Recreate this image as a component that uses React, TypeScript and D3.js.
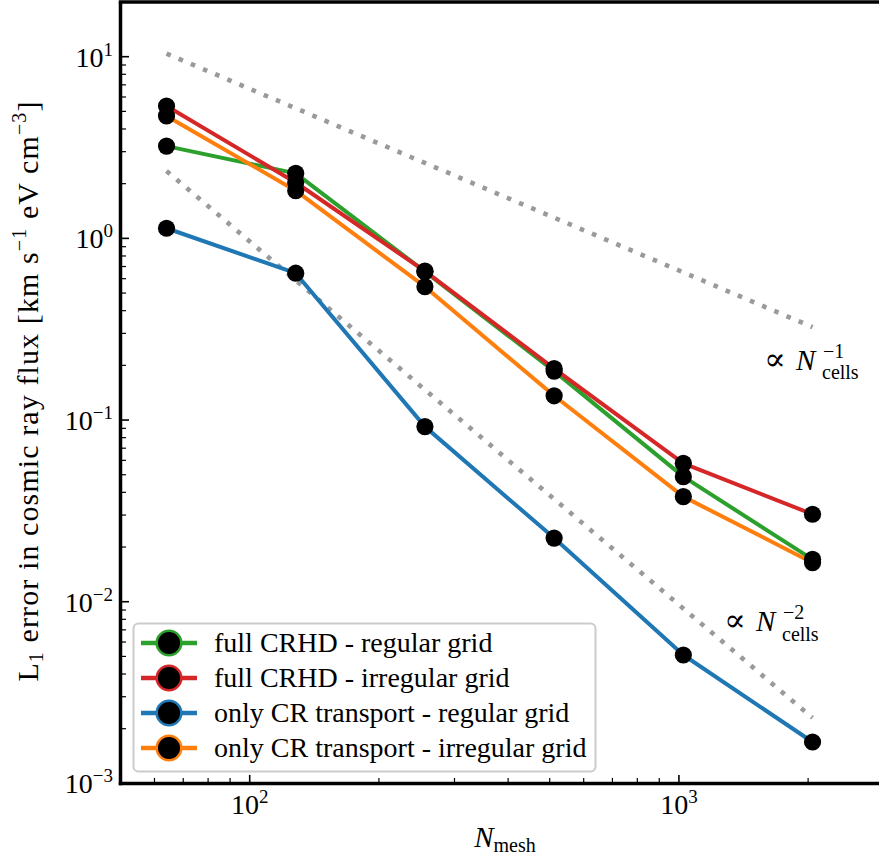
import React from "react";
import * as d3 from "d3";

const nMesh = [64, 128, 256, 512, 1024, 2048];
const fullRegular = [3.22, 2.28, 0.656, 0.186, 0.0488, 0.0171];
const fullIrregular = [5.35, 2.03, 0.66, 0.192, 0.0578, 0.0303];
const crRegular = [1.137, 0.643, 0.092, 0.0224, 0.00509, 0.00169];
const crIrregular = [4.72, 1.83, 0.542, 0.136, 0.0379, 0.0164];
const seriesNames = [
  "full CRHD - regular grid",
  "full CRHD - irregular grid",
  "only CR transport - regular grid",
  "only CR transport - irregular grid",
];
const seriesValues = [fullRegular, fullIrregular, crRegular, crIrregular];
const seriesColors = ["#2ca02c", "#d62728", "#1f77b4", "#ff7f0e"];

// reference scaling lines (endpoints)
const refN1 = [
  [64, 10.4],
  [2048, 0.325],
];
const refN2 = [
  [64, 2.35],
  [2048, 0.002295],
];

const xMajor = [100, 1000];
const xMajorExp = ["2", "3"];
const yMajor = [10, 1, 0.1, 0.01, 0.001];
const yMajorExp = ["1", "0", "−1", "−2", "−3"];

const W = 879;
const H = 857;
const FONT = "Liberation Serif, DejaVu Serif, serif";

export default function App() {
  const x = d3.scaleLog().domain([50, 3000]).range([120.5, 883.7]);
  const y = d3.scaleLog().domain([0.001, 20]).range([783.4, 2]);
  const x0 = x.range()[0];
  const x1 = x.range()[1];
  const y0 = y.range()[0];
  const y1 = y.range()[1];

  const line = d3
    .line<number>()
    .x((_, i) => x(nMesh[i]))
    .y((d) => y(d));
  const refLine = d3
    .line<number[]>()
    .x((d) => x(d[0]))
    .y((d) => y(d[1]));

  const xMinor: number[] = [];
  for (const dec of [10, 100, 1000]) {
    for (let k = 2; k <= 9; k++) {
      const v = k * dec;
      if (v > 50 && v < 3000) xMinor.push(v);
    }
  }
  const yMinor: number[] = [];
  for (const dec of [0.001, 0.01, 0.1, 1, 10]) {
    for (let k = 2; k <= 9; k++) {
      const v = k * dec;
      if (v > 0.001 && v < 20) yMinor.push(v);
    }
  }

  const legendRows = [643, 678, 713, 748];

  return (
    <svg width={W} height={H} style={{ display: "block", position: "absolute", left: 0, top: 0, fontFamily: FONT }}>
      <rect x={0} y={0} width={W} height={H} fill="white" />
      {[refN1, refN2].map((r, i) => (
        <path
          key={"ref" + i}
          d={refLine(r) || ""}
          fill="none"
          stroke="#9a9a9a"
          strokeWidth={4.6}
          strokeDasharray="4.6 8.6"
        />
      ))}
      {seriesValues.map((vals, i) => (
        <path key={"l" + i} d={line(vals) || ""} fill="none" stroke={seriesColors[i]} strokeWidth={4} strokeLinejoin="round" />
      ))}
      {seriesValues.map((vals, i) =>
        vals.map((v, j) => <circle key={"m" + i + "_" + j} cx={x(nMesh[j])} cy={y(v)} r={8.6} fill="black" />)
      )}
      <g style={{ fontSize: 29 }}>
        <text x={764} y={370} style={{ fontSize: 32 }}>∝</text>
        <text x={796} y={370} fontStyle="italic">N</text>
        <text x={823} y={358} style={{ fontSize: 20 }}>−1</text>
        <text x={822} y={379} style={{ fontSize: 20 }}>cells</text>
        <text x={724} y={631} style={{ fontSize: 32 }}>∝</text>
        <text x={756} y={631} fontStyle="italic">N</text>
        <text x={783} y={619} style={{ fontSize: 20 }}>−2</text>
        <text x={782} y={641} style={{ fontSize: 20 }}>cells</text>
      </g>
      <rect x={133.5} y={623.5} width={462} height={148} rx={5} fill="white" fillOpacity={0.85} stroke="#cccccc" strokeWidth={2} />
      {seriesNames.map((name, i) => (
        <g key={"lg" + i}>
          <line x1={141} x2={197} y1={legendRows[i]} y2={legendRows[i]} stroke={seriesColors[i]} strokeWidth={4.5} />
          <circle cx={169} cy={legendRows[i]} r={12.3} fill="black" stroke={seriesColors[i]} strokeWidth={2.5} />
          <text x={214} y={legendRows[i] + 9} style={{ fontSize: 28 }}>
            {name}
          </text>
        </g>
      ))}
      <line x1={x0} x2={x0} y1={y1} y2={y0 + 1.75} stroke="black" strokeWidth={3.5} />
      <line x1={x0 - 1.75} x2={x1} y1={y0} y2={y0} stroke="black" strokeWidth={3.5} />
      <line x1={x0 - 1.75} x2={x1} y1={y1} y2={y1} stroke="black" strokeWidth={3.5} />
      <line x1={x1} x2={x1} y1={y1} y2={y0} stroke="black" strokeWidth={3.5} />
      {xMajor.map((v, i) => (
        <g key={"xt" + i}>
          <line x1={x(v)} x2={x(v)} y1={y0} y2={y0 - 8.5} stroke="black" strokeWidth={1.6} />
          <text x={x(v)} y={814} textAnchor="middle" style={{ fontSize: 28 }}>
            10<tspan dy={-11} style={{ fontSize: 19 }}>{xMajorExp[i]}</tspan>
          </text>
        </g>
      ))}
      {xMinor.map((v, i) => (
        <line key={"xm" + i} x1={x(v)} x2={x(v)} y1={y0} y2={y0 - 5.5} stroke="black" strokeWidth={1.2} />
      ))}
      {yMajor.map((v, i) => (
        <g key={"yt" + i}>
          <line x1={x0} x2={x0 + 8.5} y1={y(v)} y2={y(v)} stroke="black" strokeWidth={1.6} />
          <text x={113} y={y(v) + 10} textAnchor="end" style={{ fontSize: 28 }}>
            10<tspan dy={-11} style={{ fontSize: 19 }}>{yMajorExp[i]}</tspan>
          </text>
        </g>
      ))}
      {yMinor.map((v, i) => (
        <line key={"ym" + i} x1={x0} x2={x0 + 5.5} y1={y(v)} y2={y(v)} stroke="black" strokeWidth={1.2} />
      ))}
      <text x={505} y={847} textAnchor="middle" style={{ fontSize: 29 }}>
        <tspan fontStyle="italic">N</tspan>
        <tspan dy={5} style={{ fontSize: 20 }}>mesh</tspan>
      </text>
      <text transform="translate(38,391) rotate(-90)" textAnchor="middle" style={{ fontSize: 30, letterSpacing: 1.1 }}>
        L<tspan dy={5} style={{ fontSize: 20 }}>1</tspan>
        <tspan dy={-5}> error in cosmic ray flux [km s</tspan>
        <tspan dy={-12} style={{ fontSize: 20 }}>−1</tspan>
        <tspan dy={12}> eV cm</tspan>
        <tspan dy={-12} style={{ fontSize: 20 }}>−3</tspan>
        <tspan dy={12}>]</tspan>
      </text>
    </svg>
  );
}
